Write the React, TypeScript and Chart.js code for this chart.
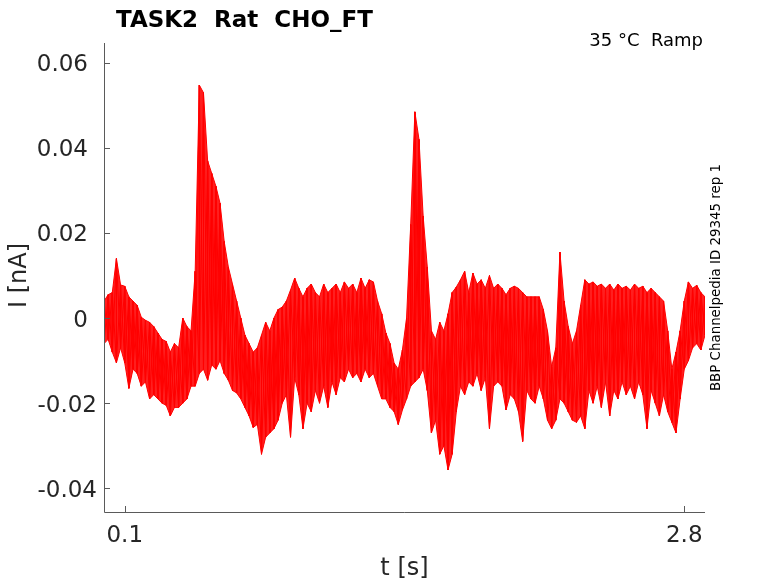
import React, { useEffect, useRef } from 'react';
import { Chart, registerables } from 'chart.js';

Chart.register(...registerables);

// sampling step of the envelope (s), first sample at t = 0
const DT = 0.02;

// upper and lower edge of the overlaid sweeps, one value per sample (nA)
const upper = [
  0.004, 0.0055, 0.006, 0.014, 0.0078, 0.0075, 0.005, 0.004, 0.003, 0.0002,
  -0.0005, -0.001, -0.002, -0.0035, -0.005, -0.0055, -0.008, -0.006, -0.007, 0.0,
  -0.002, -0.003, 0.011, 0.0548, 0.053, 0.037, 0.034, 0.031, 0.027, 0.018,
  0.012, 0.008, 0.004, 0.0, -0.004, -0.006, -0.008, -0.007, -0.004, -0.001,
  -0.003, 0.0, 0.002, 0.0026, 0.004, 0.0066, 0.0094, 0.007, 0.005, 0.007,
  0.008, 0.006, 0.005, 0.008, 0.006, 0.007, 0.008, 0.006, 0.0085, 0.007,
  0.008, 0.006, 0.0094, 0.007, 0.009, 0.0085, 0.004, 0.001, -0.0035, -0.006,
  -0.0106, -0.012, -0.0075, 0.0, 0.022, 0.0485, 0.042, 0.024, 0.012, -0.003,
  -0.005, -0.001, -0.003, 0.001, 0.006, 0.0073, 0.009, 0.011, 0.006, 0.0106,
  0.008, 0.009, 0.007, 0.01, 0.007, 0.008, 0.007, 0.0055, 0.007, 0.0075,
  0.007, 0.006, 0.005, 0.005, 0.005, 0.005, 0.002, -0.003, -0.0115, -0.007,
  0.0155, 0.004, -0.002, -0.006, -0.003, 0.003, 0.009, 0.008, 0.0085, 0.0075,
  0.008, 0.007, 0.008, 0.0066, 0.008, 0.007, 0.0075, 0.0066, 0.008, 0.007,
  0.0075, 0.006, 0.007, 0.006, 0.005, 0.004, -0.003, -0.012, -0.008, -0.003,
  0.004, 0.0085, 0.007, 0.0077, 0.006, 0.005,
];

const lower = [
  -0.006, -0.005, -0.008, -0.0105, -0.007, -0.0105, -0.0165, -0.012, -0.013, -0.016,
  -0.015, -0.019, -0.018, -0.019, -0.02, -0.0205, -0.023, -0.021, -0.021, -0.02,
  -0.019, -0.016, -0.016, -0.013, -0.012, -0.0146, -0.011, -0.012, -0.01, -0.013,
  -0.0146, -0.017, -0.0176, -0.019, -0.021, -0.023, -0.0257, -0.025, -0.032, -0.028,
  -0.027, -0.026, -0.024, -0.02, -0.018, -0.028, -0.014, -0.018, -0.026, -0.02,
  -0.022, -0.017, -0.02, -0.016, -0.021, -0.015, -0.018, -0.014, -0.015, -0.012,
  -0.014, -0.013, -0.015, -0.012, -0.014, -0.013, -0.016, -0.019, -0.019, -0.021,
  -0.022, -0.025, -0.0216, -0.019, -0.016, -0.015, -0.014, -0.012, -0.017, -0.027,
  -0.024, -0.032, -0.03, -0.0357, -0.032, -0.022, -0.016, -0.018, -0.015, -0.016,
  -0.013, -0.017, -0.014, -0.026, -0.016, -0.015, -0.016, -0.0216, -0.018, -0.019,
  -0.022, -0.029, -0.017, -0.019, -0.02, -0.016, -0.019, -0.024, -0.026, -0.024,
  -0.019, -0.02, -0.022, -0.024, -0.0245, -0.023, -0.026, -0.017, -0.02, -0.016,
  -0.021, -0.015, -0.023, -0.017, -0.019, -0.015, -0.018, -0.016, -0.019, -0.015,
  -0.018, -0.026, -0.017, -0.02, -0.023, -0.018, -0.022, -0.0245, -0.027, -0.019,
  -0.012, -0.01, -0.007, -0.006, -0.0075, -0.004,
];

const xTicks = [0.1, 2.8];
const xTickLabels = ['0.1', '2.8'];
const yTicks = [0.06, 0.04, 0.02, 0, -0.02, -0.04];
const yTickLabels = ['0.06', '0.04', '0.02', '0', '-0.02', '-0.04'];

const X_MIN = 0;
const X_MAX = 2.9;
const Y_MIN = -0.0456;
const Y_MAX = 0.0647;

const FONT = '"DejaVu Sans", sans-serif';

// axes, inward ticks and every text of the figure
const decorPlugin = {
  id: 'decor',
  afterDraw(chart: Chart) {
    const { ctx, chartArea: a } = chart;
    const xs = chart.scales.x;
    const ys = chart.scales.y;
    ctx.save();

    ctx.strokeStyle = '#5a5a5a';
    ctx.lineWidth = 1;
    ctx.beginPath();
    ctx.moveTo(a.left + 0.5, a.top);
    ctx.lineTo(a.left + 0.5, a.bottom + 0.5);
    ctx.lineTo(a.right, a.bottom + 0.5);
    yTicks.forEach((v) => {
      const y = Math.round(ys.getPixelForValue(v)) + 0.5;
      ctx.moveTo(a.left, y);
      ctx.lineTo(a.left + 6, y);
    });
    xTicks.forEach((v) => {
      const x = Math.round(xs.getPixelForValue(v)) + 0.5;
      ctx.moveTo(x, a.bottom);
      ctx.lineTo(x, a.bottom - 6);
    });
    ctx.stroke();

    ctx.fillStyle = '#262626';
    ctx.font = `23px ${FONT}`;
    ctx.textBaseline = 'alphabetic';
    ctx.textAlign = 'right';
    yTicks.forEach((v, i) => {
      const y = ys.getPixelForValue(v) + 8.4;
      ctx.fillText(yTickLabels[i], v < 0 ? a.left - 7 : a.left - 16, y);
    });
    ctx.textAlign = 'center';
    xTicks.forEach((v, i) => {
      ctx.fillText(xTickLabels[i], xs.getPixelForValue(v), a.bottom + 30);
    });

    ctx.font = `24px ${FONT}`;
    ctx.fillText('t [s]', (a.left + a.right) / 2, 575);
    ctx.save();
    ctx.translate(26, (a.top + a.bottom) / 2 - 2);
    ctx.rotate(-Math.PI / 2);
    ctx.fillText('I [nA]', 0, 0);
    ctx.restore();

    ctx.fillStyle = '#000000';
    ctx.font = `bold 23px ${FONT}`;
    ctx.textAlign = 'left';
    ctx.fillText('TASK2  Rat  CHO_FT', 116, 27);

    ctx.font = `18px ${FONT}`;
    ctx.textAlign = 'right';
    ctx.fillText('35 °C  Ramp', 703, 46);

    ctx.font = `13.4px ${FONT}`;
    ctx.textAlign = 'center';
    ctx.save();
    ctx.translate(720, (a.top + a.bottom) / 2);
    ctx.rotate(-Math.PI / 2);
    ctx.fillText('BBP Channelpedia ID 29345 rep 1', 0, 0);
    ctx.restore();

    ctx.restore();
  },
};

export default function App() {
  const canvasRef = useRef<HTMLCanvasElement>(null);

  useEffect(() => {
    if (!canvasRef.current) return;
    const times = upper.map((_, i) => +(i * DT).toFixed(2));

    const upperEdge = times.map((t, i) => ({ x: t, y: upper[i] }));
    const lowerEdge = times.map((t, i) => ({ x: t, y: lower[i] }));

    // two passes over the envelope so the band looks like overlaid sweeps
    const passA: { x: number; y: number }[] = [];
    const passB: { x: number; y: number }[] = [];
    times.forEach((t, i) => {
      passA.push({ x: t, y: lower[i] }, { x: t, y: upper[i] });
      passB.push({ x: t, y: upper[i] }, { x: t, y: lower[i] });
    });

    const lineStyle = {
      borderColor: '#ff0000',
      borderWidth: 1,
      pointRadius: 0,
      tension: 0,
      fill: false,
    };

    const chart = new Chart(canvasRef.current, {
      type: 'line',
      data: {
        datasets: [
          {
            label: 'upper edge',
            data: upperEdge,
            ...lineStyle,
            fill: '+1',
            backgroundColor: 'rgba(255, 0, 0, 0.88)',
          },
          { label: 'lower edge', data: lowerEdge, ...lineStyle },
          { label: 'sweeps a', data: passA, ...lineStyle },
          { label: 'sweeps b', data: passB, ...lineStyle },
        ],
      },
      options: {
        animation: false,
        responsive: true,
        maintainAspectRatio: false,
        events: [],
        layout: { padding: { left: 104, top: 43, right: 73, bottom: 71 } },
        plugins: {
          legend: { display: false },
          tooltip: { enabled: false },
        },
        scales: {
          x: { type: 'linear', display: false, min: X_MIN, max: X_MAX },
          y: { type: 'linear', display: false, min: Y_MIN, max: Y_MAX },
        },
      },
      plugins: [decorPlugin],
    });

    return () => {
      chart.destroy();
    };
  }, []);

  return (
    <div style={{ position: 'absolute', left: 0, top: 0, width: 778, height: 583, background: '#ffffff' }}>
      <canvas ref={canvasRef} />
    </div>
  );
}
